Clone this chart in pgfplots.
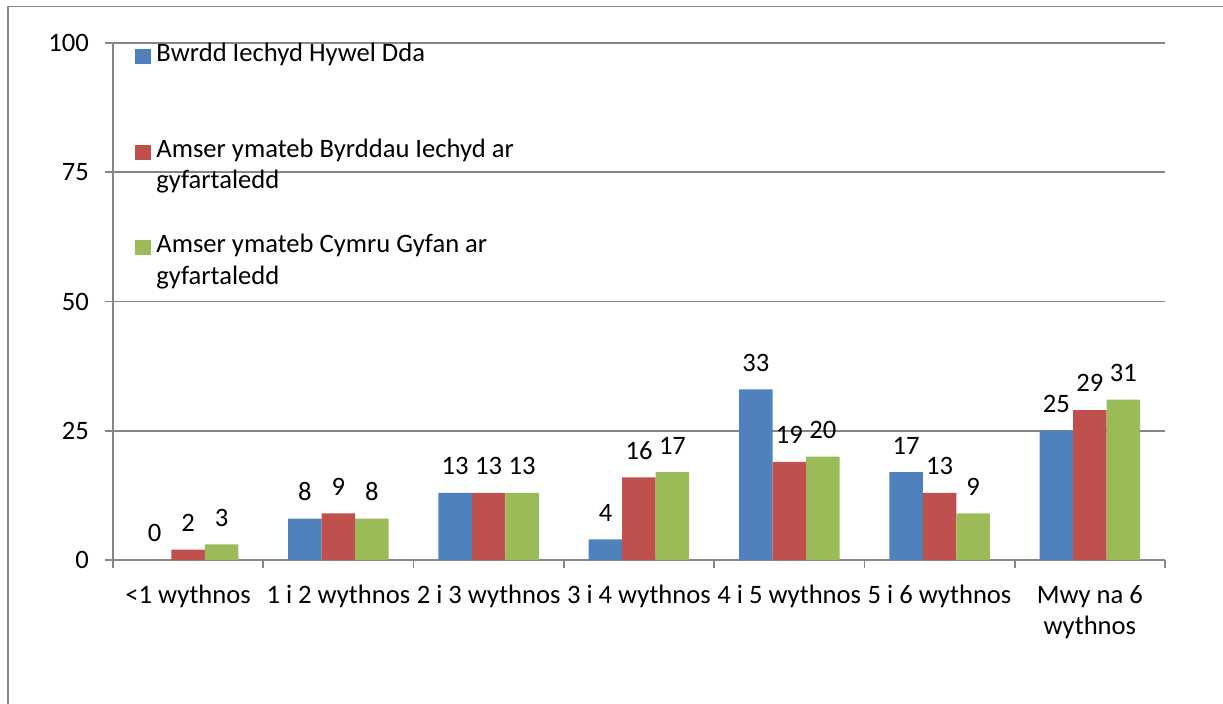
\documentclass[border=0pt]{standalone}
\usepackage{fontspec}
\setmainfont{Carlito}
\usepackage{pgfplots}
\pgfplotsset{compat=1.18}
\definecolor{cblue}{HTML}{4F81BD}
\definecolor{cred}{HTML}{C0504D}
\definecolor{cgreen}{HTML}{9BBB59}
\definecolor{gline}{HTML}{868686}
\newcommand{\cf}{\fontsize{13.3}{15.7}\selectfont}
\begin{document}
\begin{tikzpicture}[x=1pt,y=1pt]
\useasboundingbox (0,0) rectangle (611.5,352);
\draw[gline, line width=0.8pt] (4,0) -- (4,348.7) -- (611.5,348.7);
\begin{axis}[
  at={(56.5pt,72pt)}, anchor=south west,
  scale only axis, width=526pt, height=258.5pt,
  ybar=0pt, bar width=16.75pt,
  xmin=-0.5, xmax=6.5, ymin=0, ymax=100,
  ytick={0,25,50,75,100},
  xtick={-0.5,0.5,...,6.5},
  x tick label as interval,
  xticklabels={{<1 wythnos},{1 i 2 wythnos},{2 i 3 wythnos},{3 i 4 wythnos},{4 i 5 wythnos},{5 i 6 wythnos},{Mwy na 6\\wythnos}},
  axis x line=bottom, axis y line=left,
  axis line style={-, gline, line width=0.8pt},
  tick style={gline, line width=0.8pt},
  tick align=outside, major tick length=4pt,
  ymajorgrids, grid style={gline, line width=0.8pt},
  /pgf/number format/assume math mode=true,
  font=\cf,
  ticklabel style={font=\cf},
  yticklabel style={xshift=-4.5pt},
  xticklabel style={align=center, anchor=north, yshift=-5pt},
  nodes near coords,
  every node near coord/.append style={font=\cf, yshift=5.5pt, text=black},
  legend image code/.code={\fill[#1] (0pt,2pt) rectangle (8pt,9.5pt);},
  legend cell align=left,
  legend style={at={(0,1)}, anchor=north west, xshift=11pt, yshift=3.7pt,
    draw=none, fill=none, inner sep=0pt, row sep=15.5pt, column sep=0.5pt,
    cells={align=left, inner sep=0pt},
    font=\cf},
]
\addplot[fill=cblue, draw=none] coordinates {(0,0) (1,8) (2,13) (3,4) (4,33) (5,17) (6,25)};
\addplot[fill=cred, draw=none] coordinates {(0,2) (1,9) (2,13) (3,16) (4,19) (5,13) (6,29)};
\addplot[fill=cgreen, draw=none] coordinates {(0,3) (1,8) (2,13) (3,17) (4,20) (5,9) (6,31)};
\legend{{Bwrdd Iechyd Hywel Dda\strut\\\strut},{Amser ymateb Byrddau Iechyd ar\strut\\gyfartaledd\strut},{Amser ymateb Cymru Gyfan ar\strut\\gyfartaledd\strut}}
\end{axis}
\end{tikzpicture}
\end{document}
